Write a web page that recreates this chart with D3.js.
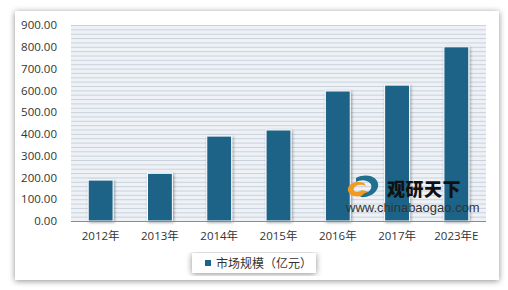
<!DOCTYPE html>
<html>
<head>
<meta charset="utf-8">
<script src="https://cdn.jsdelivr.net/npm/d3@7"></script>
<style>
  html, body { margin: 0; padding: 0; background: #fff; }
  svg { display: block; font-family: "Open Sans", "Noto Sans CJK SC", sans-serif; }
</style>
</head>
<body>
<svg id="chart" width="508" height="290"></svg>
<script>
// chart data
const years = ["2012年", "2013年", "2014年", "2015年", "2016年", "2017年", "2023年E"];
const marketSize = [188, 219, 390, 418, 597, 624, 800];
const yTicks = [0, 100, 200, 300, 400, 500, 600, 700, 800, 900];
const legendLabel = "市场规模（亿元）";

const svg = d3.select("#chart");
const W = 508, H = 290;
const margin = { left: 71, right: 22, top: 25, bottom: 69 };

const defs = svg.append("defs");
const blur = defs.append("filter").attr("id", "shadow")
  .attr("x", "-10%").attr("y", "-10%").attr("width", "125%").attr("height", "125%");
blur.append("feGaussianBlur").attr("in", "SourceAlpha").attr("stdDeviation", 3);
blur.append("feOffset").attr("dx", 0).attr("dy", 1).attr("result", "b");
blur.append("feComponentTransfer").append("feFuncA").attr("type", "linear").attr("slope", 0.45);
const merge = blur.append("feMerge");
merge.append("feMergeNode");
merge.append("feMergeNode").attr("in", "SourceGraphic");

const barShadow = defs.append("filter").attr("id", "barshadow")
  .attr("x", "-30%").attr("y", "-10%").attr("width", "160%").attr("height", "120%");
barShadow.append("feGaussianBlur").attr("in", "SourceAlpha").attr("stdDeviation", 1.5);
barShadow.append("feOffset").attr("dx", 1).attr("dy", 1);
barShadow.append("feComponentTransfer").append("feFuncA").attr("type", "linear").attr("slope", 0.4);
const m2 = barShadow.append("feMerge");
m2.append("feMergeNode");
m2.append("feMergeNode").attr("in", "SourceGraphic");

// outer frame with shadow
svg.append("rect")
  .attr("x", 15).attr("y", 11).attr("width", 484).attr("height", 269)
  .attr("fill", "#fff")
  .attr("filter", "url(#shadow)");

const x = d3.scaleBand().domain(years)
  .range([margin.left, W - margin.right])
  .paddingInner(0.58).paddingOuter(0.29);
const y = d3.scaleLinear().domain([0, 900]).range([H - margin.bottom, margin.top]);

// plot background + stripes every 20
svg.append("rect")
  .attr("x", margin.left).attr("y", y(900))
  .attr("width", W - margin.right - margin.left).attr("height", y(0) - y(900))
  .attr("fill", "#eef2f6");
svg.append("g").selectAll("line")
  .data(d3.range(20, 901, 20))
  .join("line")
  .attr("x1", margin.left).attr("x2", W - margin.right)
  .attr("y1", d => y(d) + 0.5).attr("y2", d => y(d) + 0.5)
  .attr("stroke", "#c9d2dc").attr("stroke-width", 1);

// bars
svg.append("g").selectAll("rect")
  .data(marketSize)
  .join("rect")
  .attr("x", (d, i) => x(years[i]))
  .attr("y", d => y(d))
  .attr("width", x.bandwidth())
  .attr("height", d => y(0) - y(d))
  .attr("fill", "#1c6487")
  .attr("stroke", "#fff").attr("stroke-width", 1)
  .attr("filter", "url(#barshadow)");

// x axis line
svg.append("line")
  .attr("x1", margin.left).attr("x2", W - margin.right)
  .attr("y1", y(0) + 0.5).attr("y2", y(0) + 0.5)
  .attr("stroke", "#8c8c8c").attr("stroke-width", 1);

// y axis labels
const yAxis = svg.append("g")
  .attr("transform", `translate(${margin.left - 14},0)`)
  .call(d3.axisLeft(y).tickValues(yTicks).tickFormat(d3.format(".2f")).tickSize(0).tickPadding(0));
yAxis.select(".domain").remove();
yAxis.selectAll("text")
  .attr("font-size", 11.5).attr("fill", "#333")
  .attr("font-family", "Open Sans, sans-serif");

// x axis labels
const xAxis = svg.append("g")
  .attr("transform", `translate(0,${y(0)})`)
  .call(d3.axisBottom(x).tickSize(0).tickPadding(11));
xAxis.select(".domain").remove();
xAxis.selectAll("text")
  .attr("font-size", 11.5).attr("fill", "#333")
  .attr("font-family", "Open Sans, Noto Sans CJK SC, sans-serif");

// watermark
const wm = svg.append("g");
wm.append("path")
  .attr("d", "M364,183 C352,179 344,188 350,194 C354,198 364,197 370,192 L362,190 C358,193 352,192 354,188 C356,184 362,184 366,186 Z")
  .attr("fill", "#f39a1e");
wm.append("path")
  .attr("d", "M356,178 C368,172 380,178 378,187 C376,194 368,198 360,197 L365,193 C371,192 373,186 370,183 C366,179 360,180 356,182 Z")
  .attr("fill", "#1f6f8e");
wm.append("text")
  .attr("x", 387).attr("y", 196)
  .attr("font-size", 18).attr("font-weight", 900)
  .attr("font-family", "Noto Sans CJK SC, sans-serif")
  .attr("fill", "#111")
  .attr("letter-spacing", 0.5)
  .text("观研天下");
wm.append("text")
  .attr("x", 346).attr("y", 211.5)
  .attr("font-size", 13).attr("fill", "#333")
  .attr("font-family", "Liberation Sans, Arial, sans-serif")
  .text("www.chinabaogao.com");

// legend
const lg = svg.append("g");
lg.append("rect")
  .attr("x", 192).attr("y", 253).attr("width", 124).attr("height", 20)
  .attr("fill", "#fff").attr("filter", "url(#shadow)");
lg.append("rect")
  .attr("x", 205).attr("y", 260).attr("width", 6).attr("height", 6)
  .attr("fill", "#1c6487");
lg.append("text")
  .attr("x", 216).attr("y", 267.5)
  .attr("font-size", 12).attr("fill", "#333")
  .attr("font-family", "Noto Sans CJK SC, sans-serif")
  .text(legendLabel);
</script>
</body>
</html>
